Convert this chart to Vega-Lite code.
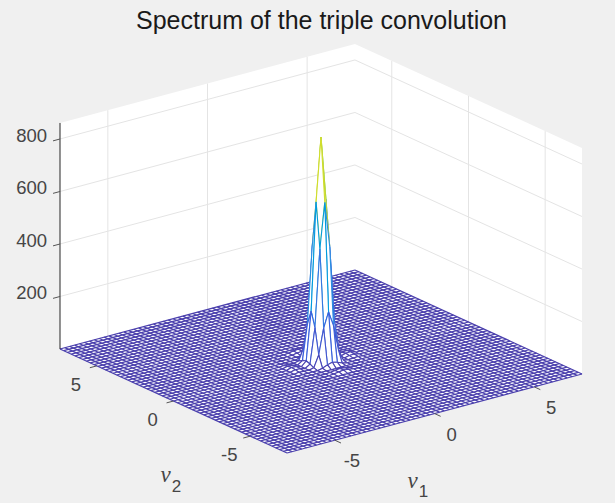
{
"$schema":"https://vega.github.io/schema/vega-lite/v6.json",
"width":615,"height":503,"padding":0,"autosize":{"type":"none"},
"background":"#f0f0f0",
"config":{"view":{"stroke":null}},
"title":{"text":"Spectrum of the triple convolution","font":"Liberation Sans","fontSize":25,"fontWeight":"normal","color":"#1a1a1a","anchor":"middle","frame":"group","dx":14,"dy":34,"offset":0},
"datasets":{
"walls":[
{"quad":"left","c":0,"nu1":-7.4,"nu2":7.4,"z":0},{"quad":"left","c":1,"nu1":7.4,"nu2":7.4,"z":0},{"quad":"left","c":2,"nu1":7.4,"nu2":7.4,"z":861},{"quad":"left","c":3,"nu1":-7.4,"nu2":7.4,"z":861},
{"quad":"right","c":0,"nu1":7.4,"nu2":7.4,"z":0},{"quad":"right","c":1,"nu1":7.4,"nu2":-7.4,"z":0},{"quad":"right","c":2,"nu1":7.4,"nu2":-7.4,"z":861},{"quad":"right","c":3,"nu1":7.4,"nu2":7.4,"z":861},
{"quad":"floor","c":0,"nu1":-7.4,"nu2":7.4,"z":0},{"quad":"floor","c":1,"nu1":7.4,"nu2":7.4,"z":0},{"quad":"floor","c":2,"nu1":7.4,"nu2":-7.4,"z":0},{"quad":"floor","c":3,"nu1":-7.4,"nu2":-7.4,"z":0}],
"segs":[
{"t":"grid","a1":-7.4,"a2":7.4,"az":200,"b1":7.4,"b2":7.4,"bz":200},{"t":"grid","a1":-7.4,"a2":7.4,"az":400,"b1":7.4,"b2":7.4,"bz":400},{"t":"grid","a1":-7.4,"a2":7.4,"az":600,"b1":7.4,"b2":7.4,"bz":600},{"t":"grid","a1":-7.4,"a2":7.4,"az":800,"b1":7.4,"b2":7.4,"bz":800},
{"t":"grid","a1":7.4,"a2":7.4,"az":200,"b1":7.4,"b2":-7.4,"bz":200},{"t":"grid","a1":7.4,"a2":7.4,"az":400,"b1":7.4,"b2":-7.4,"bz":400},{"t":"grid","a1":7.4,"a2":7.4,"az":600,"b1":7.4,"b2":-7.4,"bz":600},{"t":"grid","a1":7.4,"a2":7.4,"az":800,"b1":7.4,"b2":-7.4,"bz":800},
{"t":"grid","a1":-5,"a2":7.4,"az":0,"b1":-5,"b2":7.4,"bz":861},{"t":"grid","a1":0,"a2":7.4,"az":0,"b1":0,"b2":7.4,"bz":861},{"t":"grid","a1":5,"a2":7.4,"az":0,"b1":5,"b2":7.4,"bz":861},
{"t":"grid","a1":7.4,"a2":5,"az":0,"b1":7.4,"b2":5,"bz":861},{"t":"grid","a1":7.4,"a2":0,"az":0,"b1":7.4,"b2":0,"bz":861},{"t":"grid","a1":7.4,"a2":-5,"az":0,"b1":7.4,"b2":-5,"bz":861},
{"t":"axis","a1":-7.4,"a2":7.4,"az":0,"b1":-7.4,"b2":7.4,"bz":861},
{"t":"tick","a1":-7.4,"a2":7.4,"az":200,"b1":-7.75,"b2":7.4,"bz":200},{"t":"tick","a1":-7.4,"a2":7.4,"az":400,"b1":-7.75,"b2":7.4,"bz":400},{"t":"tick","a1":-7.4,"a2":7.4,"az":600,"b1":-7.75,"b2":7.4,"bz":600},{"t":"tick","a1":-7.4,"a2":7.4,"az":800,"b1":-7.75,"b2":7.4,"bz":800},
{"t":"tick","a1":-7.4,"a2":5,"az":0,"b1":-7.75,"b2":5,"bz":0},{"t":"tick","a1":-7.4,"a2":0,"az":0,"b1":-7.75,"b2":0,"bz":0},{"t":"tick","a1":-7.4,"a2":-5,"az":0,"b1":-7.75,"b2":-5,"bz":0},
{"t":"tick","a1":-5,"a2":-7.4,"az":0,"b1":-5,"b2":-7.8,"bz":0},{"t":"tick","a1":0,"a2":-7.4,"az":0,"b1":0,"b2":-7.8,"bz":0},{"t":"tick","a1":5,"a2":-7.4,"az":0,"b1":5,"b2":-7.8,"bz":0}],
"labels":[
{"axis":"z","text":"200","nu1":-7.4,"nu2":7.4,"z":200},{"axis":"z","text":"400","nu1":-7.4,"nu2":7.4,"z":400},{"axis":"z","text":"600","nu1":-7.4,"nu2":7.4,"z":600},{"axis":"z","text":"800","nu1":-7.4,"nu2":7.4,"z":800},
{"axis":"nu1","text":"-5","nu1":-5,"nu2":-7.4,"z":0},{"axis":"nu1","text":"0","nu1":0,"nu2":-7.4,"z":0},{"axis":"nu1","text":"5","nu1":5,"nu2":-7.4,"z":0},
{"axis":"nu2","text":"5","nu1":-7.4,"nu2":5,"z":0},{"axis":"nu2","text":"0","nu1":-7.4,"nu2":0,"z":0},{"axis":"nu2","text":"-5","nu1":-7.4,"nu2":-5,"z":0},
{"axis":"t1","text":"ν","nu1":0,"nu2":-7.4,"z":0},{"axis":"s1","text":"1","nu1":0,"nu2":-7.4,"z":0},
{"axis":"t2","text":"ν","nu1":-7.4,"nu2":0,"z":0},{"axis":"s2","text":"2","nu1":-7.4,"nu2":0,"z":0}],
"mesh":[{"g":-30},{"g":-29},{"g":-28},{"g":-27},{"g":-26},{"g":-25},{"g":-24},{"g":-23},{"g":-22},{"g":-21},{"g":-20},{"g":-19},{"g":-18},{"g":-17},{"g":-16},{"g":-15},{"g":-14},{"g":-13},{"g":-12},{"g":-11},{"g":-10},{"g":-9},{"g":-8},{"g":-7},{"g":-6},{"g":-5},{"g":-4},{"g":-3},{"g":-2},{"g":-1},{"g":0},{"g":1},{"g":2},{"g":3},{"g":4},{"g":5},{"g":6},{"g":7},{"g":8},{"g":9},{"g":10},{"g":11},{"g":12},{"g":13},{"g":14},{"g":15},{"g":16},{"g":17},{"g":18},{"g":19},{"g":20},{"g":21},{"g":22},{"g":23},{"g":24},{"g":25},{"g":26},{"g":27},{"g":28},{"g":29},{"g":30}],
"verts":[
{"k":707,"i":7,"j":7,"z":0},{"k":706,"i":7,"j":6,"z":0},{"k":705,"i":7,"j":5,"z":0},{"k":704,"i":7,"j":4,"z":0},{"k":703,"i":7,"j":3,"z":0},{"k":702,"i":7,"j":2,"z":0},{"k":701,"i":7,"j":1,"z":1},{"k":700,"i":7,"j":0,"z":1},{"k":699,"i":7,"j":-1,"z":1},{"k":698,"i":7,"j":-2,"z":0},{"k":697,"i":7,"j":-3,"z":0},{"k":696,"i":7,"j":-4,"z":0},{"k":695,"i":7,"j":-5,"z":0},{"k":694,"i":7,"j":-6,"z":0},{"k":693,"i":7,"j":-7,"z":0},
{"k":607,"i":6,"j":7,"z":0},{"k":606,"i":6,"j":6,"z":0},{"k":605,"i":6,"j":5,"z":0},{"k":604,"i":6,"j":4,"z":0},{"k":603,"i":6,"j":3,"z":0},{"k":602,"i":6,"j":2,"z":2},{"k":601,"i":6,"j":1,"z":5},{"k":600,"i":6,"j":0,"z":7},{"k":599,"i":6,"j":-1,"z":5},{"k":598,"i":6,"j":-2,"z":2},{"k":597,"i":6,"j":-3,"z":0},{"k":596,"i":6,"j":-4,"z":0},{"k":595,"i":6,"j":-5,"z":0},{"k":594,"i":6,"j":-6,"z":0},{"k":593,"i":6,"j":-7,"z":0},
{"k":507,"i":5,"j":7,"z":0},{"k":506,"i":5,"j":6,"z":0},{"k":505,"i":5,"j":5,"z":0},{"k":504,"i":5,"j":4,"z":0},{"k":503,"i":5,"j":3,"z":0},{"k":502,"i":5,"j":2,"z":1},{"k":501,"i":5,"j":1,"z":4},{"k":500,"i":5,"j":0,"z":6},{"k":499,"i":5,"j":-1,"z":4},{"k":498,"i":5,"j":-2,"z":1},{"k":497,"i":5,"j":-3,"z":0},{"k":496,"i":5,"j":-4,"z":0},{"k":495,"i":5,"j":-5,"z":0},{"k":494,"i":5,"j":-6,"z":0},{"k":493,"i":5,"j":-7,"z":0},
{"k":407,"i":4,"j":7,"z":0},{"k":406,"i":4,"j":6,"z":0},{"k":405,"i":4,"j":5,"z":0},{"k":404,"i":4,"j":4,"z":0},{"k":403,"i":4,"j":3,"z":0},{"k":402,"i":4,"j":2,"z":0},{"k":401,"i":4,"j":1,"z":0},{"k":400,"i":4,"j":0,"z":0},{"k":399,"i":4,"j":-1,"z":0},{"k":398,"i":4,"j":-2,"z":0},{"k":397,"i":4,"j":-3,"z":0},{"k":396,"i":4,"j":-4,"z":0},{"k":395,"i":4,"j":-5,"z":0},{"k":394,"i":4,"j":-6,"z":0},{"k":393,"i":4,"j":-7,"z":0},
{"k":307,"i":3,"j":7,"z":0},{"k":306,"i":3,"j":6,"z":0},{"k":305,"i":3,"j":5,"z":0},{"k":304,"i":3,"j":4,"z":0},{"k":303,"i":3,"j":3,"z":0},{"k":302,"i":3,"j":2,"z":4},{"k":301,"i":3,"j":1,"z":12},{"k":300,"i":3,"j":0,"z":17},{"k":299,"i":3,"j":-1,"z":12},{"k":298,"i":3,"j":-2,"z":4},{"k":297,"i":3,"j":-3,"z":0},{"k":296,"i":3,"j":-4,"z":0},{"k":295,"i":3,"j":-5,"z":0},{"k":294,"i":3,"j":-6,"z":0},{"k":293,"i":3,"j":-7,"z":0},
{"k":207,"i":2,"j":7,"z":0},{"k":206,"i":2,"j":6,"z":2},{"k":205,"i":2,"j":5,"z":1},{"k":204,"i":2,"j":4,"z":0},{"k":203,"i":2,"j":3,"z":4},{"k":202,"i":2,"j":2,"z":48},{"k":201,"i":2,"j":1,"z":145},{"k":200,"i":2,"j":0,"z":202},{"k":199,"i":2,"j":-1,"z":145},{"k":198,"i":2,"j":-2,"z":48},{"k":197,"i":2,"j":-3,"z":4},{"k":196,"i":2,"j":-4,"z":0},{"k":195,"i":2,"j":-5,"z":1},{"k":194,"i":2,"j":-6,"z":2},{"k":193,"i":2,"j":-7,"z":0},
{"k":107,"i":1,"j":7,"z":1},{"k":106,"i":1,"j":6,"z":5},{"k":105,"i":1,"j":5,"z":4},{"k":104,"i":1,"j":4,"z":0},{"k":103,"i":1,"j":3,"z":12},{"k":102,"i":1,"j":2,"z":145},{"k":101,"i":1,"j":1,"z":440},{"k":100,"i":1,"j":0,"z":613},{"k":99,"i":1,"j":-1,"z":440},{"k":98,"i":1,"j":-2,"z":145},{"k":97,"i":1,"j":-3,"z":12},{"k":96,"i":1,"j":-4,"z":0},{"k":95,"i":1,"j":-5,"z":4},{"k":94,"i":1,"j":-6,"z":5},{"k":93,"i":1,"j":-7,"z":1},
{"k":7,"i":0,"j":7,"z":1},{"k":6,"i":0,"j":6,"z":7},{"k":5,"i":0,"j":5,"z":6},{"k":4,"i":0,"j":4,"z":0},{"k":3,"i":0,"j":3,"z":17},{"k":2,"i":0,"j":2,"z":202},{"k":1,"i":0,"j":1,"z":613},{"k":0,"i":0,"j":0,"z":855},{"k":-1,"i":0,"j":-1,"z":613},{"k":-2,"i":0,"j":-2,"z":202},{"k":-3,"i":0,"j":-3,"z":17},{"k":-4,"i":0,"j":-4,"z":0},{"k":-5,"i":0,"j":-5,"z":6},{"k":-6,"i":0,"j":-6,"z":7},{"k":-7,"i":0,"j":-7,"z":1},
{"k":-93,"i":-1,"j":7,"z":1},{"k":-94,"i":-1,"j":6,"z":5},{"k":-95,"i":-1,"j":5,"z":4},{"k":-96,"i":-1,"j":4,"z":0},{"k":-97,"i":-1,"j":3,"z":12},{"k":-98,"i":-1,"j":2,"z":145},{"k":-99,"i":-1,"j":1,"z":440},{"k":-100,"i":-1,"j":0,"z":613},{"k":-101,"i":-1,"j":-1,"z":440},{"k":-102,"i":-1,"j":-2,"z":145},{"k":-103,"i":-1,"j":-3,"z":12},{"k":-104,"i":-1,"j":-4,"z":0},{"k":-105,"i":-1,"j":-5,"z":4},{"k":-106,"i":-1,"j":-6,"z":5},{"k":-107,"i":-1,"j":-7,"z":1},
{"k":-193,"i":-2,"j":7,"z":0},{"k":-194,"i":-2,"j":6,"z":2},{"k":-195,"i":-2,"j":5,"z":1},{"k":-196,"i":-2,"j":4,"z":0},{"k":-197,"i":-2,"j":3,"z":4},{"k":-198,"i":-2,"j":2,"z":48},{"k":-199,"i":-2,"j":1,"z":145},{"k":-200,"i":-2,"j":0,"z":202},{"k":-201,"i":-2,"j":-1,"z":145},{"k":-202,"i":-2,"j":-2,"z":48},{"k":-203,"i":-2,"j":-3,"z":4},{"k":-204,"i":-2,"j":-4,"z":0},{"k":-205,"i":-2,"j":-5,"z":1},{"k":-206,"i":-2,"j":-6,"z":2},{"k":-207,"i":-2,"j":-7,"z":0},
{"k":-293,"i":-3,"j":7,"z":0},{"k":-294,"i":-3,"j":6,"z":0},{"k":-295,"i":-3,"j":5,"z":0},{"k":-296,"i":-3,"j":4,"z":0},{"k":-297,"i":-3,"j":3,"z":0},{"k":-298,"i":-3,"j":2,"z":4},{"k":-299,"i":-3,"j":1,"z":12},{"k":-300,"i":-3,"j":0,"z":17},{"k":-301,"i":-3,"j":-1,"z":12},{"k":-302,"i":-3,"j":-2,"z":4},{"k":-303,"i":-3,"j":-3,"z":0},{"k":-304,"i":-3,"j":-4,"z":0},{"k":-305,"i":-3,"j":-5,"z":0},{"k":-306,"i":-3,"j":-6,"z":0},{"k":-307,"i":-3,"j":-7,"z":0},
{"k":-393,"i":-4,"j":7,"z":0},{"k":-394,"i":-4,"j":6,"z":0},{"k":-395,"i":-4,"j":5,"z":0},{"k":-396,"i":-4,"j":4,"z":0},{"k":-397,"i":-4,"j":3,"z":0},{"k":-398,"i":-4,"j":2,"z":0},{"k":-399,"i":-4,"j":1,"z":0},{"k":-400,"i":-4,"j":0,"z":0},{"k":-401,"i":-4,"j":-1,"z":0},{"k":-402,"i":-4,"j":-2,"z":0},{"k":-403,"i":-4,"j":-3,"z":0},{"k":-404,"i":-4,"j":-4,"z":0},{"k":-405,"i":-4,"j":-5,"z":0},{"k":-406,"i":-4,"j":-6,"z":0},{"k":-407,"i":-4,"j":-7,"z":0},
{"k":-493,"i":-5,"j":7,"z":0},{"k":-494,"i":-5,"j":6,"z":0},{"k":-495,"i":-5,"j":5,"z":0},{"k":-496,"i":-5,"j":4,"z":0},{"k":-497,"i":-5,"j":3,"z":0},{"k":-498,"i":-5,"j":2,"z":1},{"k":-499,"i":-5,"j":1,"z":4},{"k":-500,"i":-5,"j":0,"z":6},{"k":-501,"i":-5,"j":-1,"z":4},{"k":-502,"i":-5,"j":-2,"z":1},{"k":-503,"i":-5,"j":-3,"z":0},{"k":-504,"i":-5,"j":-4,"z":0},{"k":-505,"i":-5,"j":-5,"z":0},{"k":-506,"i":-5,"j":-6,"z":0},{"k":-507,"i":-5,"j":-7,"z":0},
{"k":-593,"i":-6,"j":7,"z":0},{"k":-594,"i":-6,"j":6,"z":0},{"k":-595,"i":-6,"j":5,"z":0},{"k":-596,"i":-6,"j":4,"z":0},{"k":-597,"i":-6,"j":3,"z":0},{"k":-598,"i":-6,"j":2,"z":2},{"k":-599,"i":-6,"j":1,"z":5},{"k":-600,"i":-6,"j":0,"z":7},{"k":-601,"i":-6,"j":-1,"z":5},{"k":-602,"i":-6,"j":-2,"z":2},{"k":-603,"i":-6,"j":-3,"z":0},{"k":-604,"i":-6,"j":-4,"z":0},{"k":-605,"i":-6,"j":-5,"z":0},{"k":-606,"i":-6,"j":-6,"z":0},{"k":-607,"i":-6,"j":-7,"z":0},
{"k":-693,"i":-7,"j":7,"z":0},{"k":-694,"i":-7,"j":6,"z":0},{"k":-695,"i":-7,"j":5,"z":0},{"k":-696,"i":-7,"j":4,"z":0},{"k":-697,"i":-7,"j":3,"z":0},{"k":-698,"i":-7,"j":2,"z":0},{"k":-699,"i":-7,"j":1,"z":1},{"k":-700,"i":-7,"j":0,"z":1},{"k":-701,"i":-7,"j":-1,"z":1},{"k":-702,"i":-7,"j":-2,"z":0},{"k":-703,"i":-7,"j":-3,"z":0},{"k":-704,"i":-7,"j":-4,"z":0},{"k":-705,"i":-7,"j":-5,"z":0},{"k":-706,"i":-7,"j":-6,"z":0},{"k":-707,"i":-7,"j":-7,"z":0}
]},
"layer":[
{"data":{"name":"walls"},
 "transform":[{"calculate":"321+19.93*datum.nu1-15.34*datum.nu2","as":"sx"},{"calculate":"361.5-5.34*datum.nu1-7.03*datum.nu2-0.2625*datum.z","as":"sy"}],
 "mark":{"type":"line","fill":"white","stroke":"white","strokeWidth":0},
 "encoding":{"x":{"field":"sx","type":"quantitative","axis":null,"scale":{"domain":[0,615],"nice":false,"zero":false}},"y":{"field":"sy","type":"quantitative","axis":null,"scale":{"domain":[503,0],"nice":false,"zero":false}},"detail":{"field":"quad"},"order":{"field":"c"}}},
{"data":{"name":"segs"},
 "transform":[{"filter":"datum.t=='grid'"},{"calculate":"321+19.93*datum.a1-15.34*datum.a2","as":"sx"},{"calculate":"361.5-5.34*datum.a1-7.03*datum.a2-0.2625*datum.az","as":"sy"},{"calculate":"321+19.93*datum.b1-15.34*datum.b2","as":"sx2"},{"calculate":"361.5-5.34*datum.b1-7.03*datum.b2-0.2625*datum.bz","as":"sy2"}],
 "mark":{"type":"rule","color":"#e4e4e4","strokeWidth":1},
 "encoding":{"x":{"field":"sx","type":"quantitative"},"y":{"field":"sy","type":"quantitative"},"x2":{"field":"sx2"},"y2":{"field":"sy2"}}},
{"data":{"name":"mesh"},
 "transform":[{"calculate":"321+4.917*datum.g+113.5","as":"sx"},{"calculate":"361.5-1.317*datum.g+52","as":"sy"},{"calculate":"321+4.917*datum.g-113.5","as":"sx2"},{"calculate":"361.5-1.317*datum.g-52","as":"sy2"}],
 "mark":{"type":"rule","color":"#4b40ad","strokeWidth":1.25},
 "encoding":{"x":{"field":"sx","type":"quantitative"},"y":{"field":"sy","type":"quantitative"},"x2":{"field":"sx2"},"y2":{"field":"sy2"}}},
{"data":{"name":"mesh"},
 "transform":[{"calculate":"321-147.5-3.784*datum.g","as":"sx"},{"calculate":"361.5+39.5-1.734*datum.g","as":"sy"},{"calculate":"321+147.5-3.784*datum.g","as":"sx2"},{"calculate":"361.5-39.5-1.734*datum.g","as":"sy2"}],
 "mark":{"type":"rule","color":"#4b40ad","strokeWidth":1.25},
 "encoding":{"x":{"field":"sx","type":"quantitative"},"y":{"field":"sy","type":"quantitative"},"x2":{"field":"sx2"},"y2":{"field":"sy2"}}},
{"data":{"name":"verts"},
 "transform":[{"filter":"datum.i>-7&&datum.j>-7"},
  {"calculate":"[0,1,2,3,4]","as":"corner"},{"flatten":["corner"]},
  {"calculate":"datum.i+[0,-1,-1,0,0][datum.corner]","as":"ci"},
  {"calculate":"datum.j+[0,0,-1,-1,0][datum.corner]","as":"cj"},
  {"calculate":"100*datum.ci+datum.cj","as":"ck"},
  {"lookup":"ck","from":{"data":{"name":"verts"},"key":"k","fields":["z"]},"as":["zc"]},
  {"joinaggregate":[{"op":"mean","field":"zc","as":"zm"}],"groupby":["k"]},
  {"calculate":"321+4.917*datum.ci-3.784*datum.cj","as":"sx"},
  {"calculate":"361.5-1.317*datum.ci-1.734*datum.cj-0.2625*datum.zc","as":"sy"}],
 "mark":{"type":"line","fill":"white","strokeWidth":1.1},
 "encoding":{"x":{"field":"sx","type":"quantitative"},"y":{"field":"sy","type":"quantitative"},"detail":{"field":"k"},"order":{"field":"corner"},
  "stroke":{"field":"zm","type":"quantitative","legend":null,"scale":{"domain":[0,100,350,480,630,855],"range":["#4b40ad","#3a5fdc","#3f86e0","#2fb5c8","#c6d52e","#f9fb0e"]}}}},
{"data":{"name":"segs"},
 "transform":[{"filter":"datum.t=='axis'"},{"calculate":"321+19.93*datum.a1-15.34*datum.a2","as":"sx"},{"calculate":"361.5-5.34*datum.a1-7.03*datum.a2-0.2625*datum.az","as":"sy"},{"calculate":"321+19.93*datum.b1-15.34*datum.b2","as":"sx2"},{"calculate":"361.5-5.34*datum.b1-7.03*datum.b2-0.2625*datum.bz","as":"sy2"}],
 "mark":{"type":"rule","color":"#262626","strokeWidth":1},
 "encoding":{"x":{"field":"sx","type":"quantitative"},"y":{"field":"sy","type":"quantitative"},"x2":{"field":"sx2"},"y2":{"field":"sy2"}}},
{"data":{"name":"segs"},
 "transform":[{"filter":"datum.t=='tick'"},{"calculate":"321+19.93*datum.a1-15.34*datum.a2","as":"sx"},{"calculate":"361.5-5.34*datum.a1-7.03*datum.a2-0.2625*datum.az","as":"sy"},{"calculate":"321+19.93*datum.b1-15.34*datum.b2","as":"sx2"},{"calculate":"361.5-5.34*datum.b1-7.03*datum.b2-0.2625*datum.bz","as":"sy2"}],
 "mark":{"type":"rule","color":"#555555","strokeWidth":1},
 "encoding":{"x":{"field":"sx","type":"quantitative"},"y":{"field":"sy","type":"quantitative"},"x2":{"field":"sx2"},"y2":{"field":"sy2"}}},
{"data":{"name":"labels"},
 "transform":[{"filter":"datum.axis=='z'"},{"calculate":"321+19.93*datum.nu1-15.34*datum.nu2","as":"sx"},{"calculate":"361.5-5.34*datum.nu1-7.03*datum.nu2-0.2625*datum.z","as":"sy"}],
 "mark":{"type":"text","font":"Liberation Sans","fontSize":18.5,"color":"#454545","align":"right","baseline":"middle","dx":-13,"dy":-3},
 "encoding":{"x":{"field":"sx","type":"quantitative"},"y":{"field":"sy","type":"quantitative"},"text":{"field":"text"}}},
{"data":{"name":"labels"},
 "transform":[{"filter":"datum.axis=='nu1'"},{"calculate":"321+19.93*datum.nu1-15.34*datum.nu2","as":"sx"},{"calculate":"361.5-5.34*datum.nu1-7.03*datum.nu2-0.2625*datum.z","as":"sy"}],
 "mark":{"type":"text","font":"Liberation Sans","fontSize":18.5,"color":"#454545","align":"center","baseline":"middle","dx":17,"dy":21},
 "encoding":{"x":{"field":"sx","type":"quantitative"},"y":{"field":"sy","type":"quantitative"},"text":{"field":"text"}}},
{"data":{"name":"labels"},
 "transform":[{"filter":"datum.axis=='nu2'"},{"calculate":"321+19.93*datum.nu1-15.34*datum.nu2","as":"sx"},{"calculate":"361.5-5.34*datum.nu1-7.03*datum.nu2-0.2625*datum.z","as":"sy"}],
 "mark":{"type":"text","font":"Liberation Sans","fontSize":18.5,"color":"#454545","align":"center","baseline":"middle","dx":-21,"dy":19},
 "encoding":{"x":{"field":"sx","type":"quantitative"},"y":{"field":"sy","type":"quantitative"},"text":{"field":"text"}}},
{"data":{"name":"labels"},
 "transform":[{"filter":"datum.axis=='t1'"},{"calculate":"321+19.93*datum.nu1-15.34*datum.nu2","as":"sx"},{"calculate":"361.5-5.34*datum.nu1-7.03*datum.nu2-0.2625*datum.z","as":"sy"}],
 "mark":{"type":"text","font":"Liberation Serif","fontStyle":"italic","fontSize":23,"color":"#454545","align":"center","baseline":"middle","dx":-22,"dy":67},
 "encoding":{"x":{"field":"sx","type":"quantitative"},"y":{"field":"sy","type":"quantitative"},"text":{"field":"text"}}},
{"data":{"name":"labels"},
 "transform":[{"filter":"datum.axis=='s1'"},{"calculate":"321+19.93*datum.nu1-15.34*datum.nu2","as":"sx"},{"calculate":"361.5-5.34*datum.nu1-7.03*datum.nu2-0.2625*datum.z","as":"sy"}],
 "mark":{"type":"text","font":"Liberation Sans","fontSize":17,"color":"#454545","align":"center","baseline":"middle","dx":-11,"dy":78},
 "encoding":{"x":{"field":"sx","type":"quantitative"},"y":{"field":"sy","type":"quantitative"},"text":{"field":"text"}}},
{"data":{"name":"labels"},
 "transform":[{"filter":"datum.axis=='t2'"},{"calculate":"321+19.93*datum.nu1-15.34*datum.nu2","as":"sx"},{"calculate":"361.5-5.34*datum.nu1-7.03*datum.nu2-0.2625*datum.z","as":"sy"}],
 "mark":{"type":"text","font":"Liberation Serif","fontStyle":"italic","fontSize":23,"color":"#454545","align":"center","baseline":"middle","dx":-8,"dy":74},
 "encoding":{"x":{"field":"sx","type":"quantitative"},"y":{"field":"sy","type":"quantitative"},"text":{"field":"text"}}},
{"data":{"name":"labels"},
 "transform":[{"filter":"datum.axis=='s2'"},{"calculate":"321+19.93*datum.nu1-15.34*datum.nu2","as":"sx"},{"calculate":"361.5-5.34*datum.nu1-7.03*datum.nu2-0.2625*datum.z","as":"sy"}],
 "mark":{"type":"text","font":"Liberation Sans","fontSize":17,"color":"#454545","align":"center","baseline":"middle","dx":3,"dy":86},
 "encoding":{"x":{"field":"sx","type":"quantitative"},"y":{"field":"sy","type":"quantitative"},"text":{"field":"text"}}}
]
}
